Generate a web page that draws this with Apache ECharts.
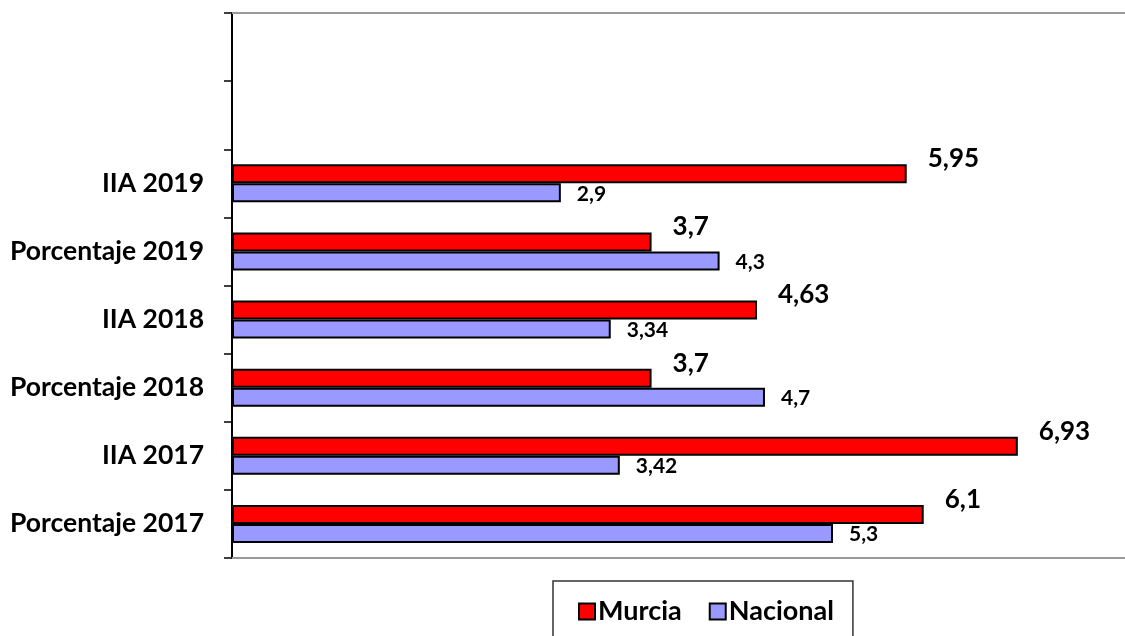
<!DOCTYPE html>
<html>
<head>
<meta charset="utf-8">
<script src="https://cdn.jsdelivr.net/npm/echarts@6/dist/echarts.min.js"></script>
<style>
    html, body { margin: 0; padding: 0; background: #fff; }
    #chart-container { width: 1125px; height: 636px; }
</style>
</head>
<body>
<div id="chart-container"></div>
<script>
// categories from bottom to top, the two top rows are left empty
var categories = ['Porcentaje 2017', 'IIA 2017', 'Porcentaje 2018', 'IIA 2018', 'Porcentaje 2019', 'IIA 2019', '', ''];
var murcia = [6.1, 6.93, 3.7, 4.63, 3.7, 5.95, '-', '-'];
var nacional = [5.3, 3.42, 4.7, 3.34, 4.3, 2.9, '-', '-'];

var dom = document.getElementById('chart-container');
var myChart = echarts.init(dom, null, { renderer: 'canvas' });

var fmt = function (p) {
    return String(p.value).replace('.', ',');
};

// plot area runs off the right edge of the picture
var xMax = 7.875;

var hiddenX = function (pos) {
    return {
        type: 'value',
        position: pos,
        min: 0,
        max: xMax,
        axisLabel: { show: false },
        axisLine: { show: true, onZero: false, lineStyle: { color: '#999', width: 2 } },
        axisTick: { show: false },
        splitLine: { show: false }
    };
};

var option = {
    animation: false,
    textStyle: { fontFamily: 'Lato' },
    grid: {
        left: 232,
        top: 13,
        height: 545,
        right: 0
    },
    legend: {
        data: ['Murcia', 'Nacional'],
        left: 553,
        top: 581,
        orient: 'horizontal',
        padding: [17, 19, 30, 25],
        itemWidth: 16,
        itemHeight: 16,
        itemGap: 27,
        icon: 'rect',
        borderColor: '#333',
        borderWidth: 1.5,
        itemStyle: { borderColor: '#000', borderWidth: 2 },
        textStyle: { fontFamily: 'Lato', fontWeight: 'bold', fontSize: 27, color: '#000', padding: [0, 0, 0, -2] }
    },
    xAxis: [hiddenX('bottom'), hiddenX('top')],
    yAxis: {
        type: 'category',
        data: categories,
        axisLine: { show: true, lineStyle: { color: '#000', width: 2 } },
        axisTick: { show: true, length: 8, lineStyle: { color: '#000', width: 1.5 } },
        axisLabel: {
            margin: 28,
            fontFamily: 'Lato',
            fontWeight: 'bold',
            fontSize: 26.5,
            color: '#000'
        }
    },
    series: [
        {
            name: 'Murcia',
            type: 'bar',
            data: murcia,
            barWidth: 19,
            barGap: '0%',
            itemStyle: { color: '#ff0000', borderColor: '#000', borderWidth: 2 },
            label: {
                show: true,
                position: 'right',
                distance: 21,
                offset: [0, -15],
                formatter: fmt,
                fontFamily: 'Lato',
                fontWeight: 'bold',
                fontSize: 26,
                color: '#000'
            }
        },
        {
            name: 'Nacional',
            type: 'bar',
            data: nacional,
            barWidth: 19,
            barGap: '0%',
            itemStyle: { color: '#9999ff', borderColor: '#000', borderWidth: 2 },
            label: {
                show: true,
                position: 'right',
                distance: 16,
                offset: [0, 1],
                formatter: fmt,
                fontFamily: 'Lato',
                fontWeight: 'bold',
                fontSize: 21,
                color: '#000'
            }
        }
    ]
};

myChart.setOption(option);
window.addEventListener('resize', myChart.resize);
</script>
</body>
</html>
